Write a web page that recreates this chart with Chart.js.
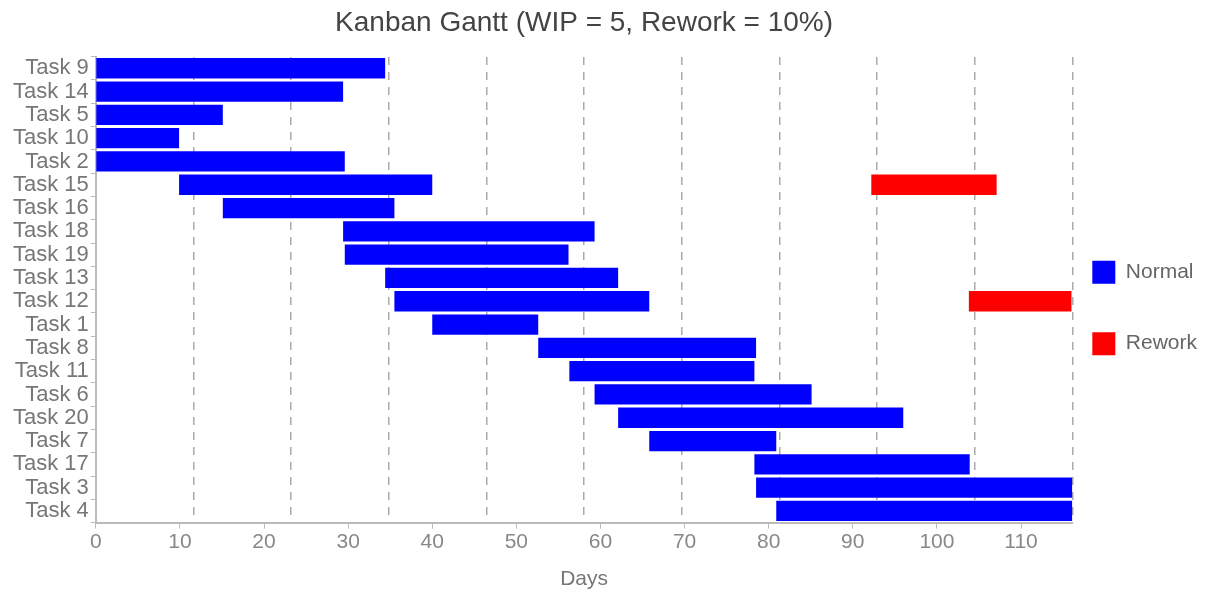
<!DOCTYPE html>
<html>
<head>
<meta charset="utf-8">
<script src="https://cdn.jsdelivr.net/npm/chart.js@4"></script>
<style>
  html, body { margin: 0; padding: 0; background: #fff; }
  #wrap { width: 1211px; height: 592px; }
</style>
</head>
<body>
<div id="wrap"><canvas id="myChart"></canvas></div>
<script>
// tasks top to bottom
var tasks = ['Task 9', 'Task 14', 'Task 5', 'Task 10', 'Task 2', 'Task 15', 'Task 16', 'Task 18', 'Task 19', 'Task 13',
             'Task 12', 'Task 1', 'Task 8', 'Task 11', 'Task 6', 'Task 20', 'Task 7', 'Task 17', 'Task 3', 'Task 4'];
var normalStart = [0, 0, 0, 0, 0, 9.9, 15.1, 29.4, 29.6, 34.4, 35.5, 40.0, 52.6, 56.3, 59.3, 62.1, 65.8, 78.3, 78.5, 80.9];
var normalEnd   = [34.4, 29.4, 15.1, 9.9, 29.6, 40.0, 35.5, 59.3, 56.2, 62.1, 65.8, 52.6, 78.5, 78.3, 85.1, 96.0, 80.9, 103.9, 116.1, 116.1];
var reworkStart = [null, null, null, null, null, 92.2, null, null, null, null, 103.8, null, null, null, null, null, null, null, null, null];
var reworkEnd   = [null, null, null, null, null, 107.1, null, null, null, null, 116.0, null, null, null, null, null, null, null, null, null];
var xTicks = [0, 10, 20, 30, 40, 50, 60, 70, 80, 90, 100, 110];
var xMax = 116.1;

function pairs(s, e) {
  return s.map(function (v, i) { return v === null ? null : [v, e[i]]; });
}

Chart.defaults.font.family = '"Liberation Sans", Arial, sans-serif';
Chart.defaults.color = '#777';

var ctx = document.getElementById('myChart').getContext('2d');
var myChart = new Chart(ctx, {
  type: 'bar',
  data: {
    labels: tasks,
    datasets: [{
      label: 'Normal',
      data: pairs(normalStart, normalEnd),
      backgroundColor: '#0000ff',
      borderWidth: 0
    }, {
      label: 'Rework',
      data: pairs(reworkStart, reworkEnd),
      backgroundColor: '#ff0000',
      borderWidth: 0
    }]
  },
  options: {
    indexAxis: 'y',
    responsive: true,
    maintainAspectRatio: false,
    animation: false,
    grouped: false,
    barPercentage: 0.87,
    categoryPercentage: 1.0,
    layout: { padding: { left: 11, right: 4, top: 4, bottom: 0 } },
    plugins: {
      title: {
        display: true,
        text: 'Kanban Gantt (WIP = 5, Rework = 10%)',
        fullSize: false,
        color: '#444',
        font: { size: 28, weight: 'normal' },
        padding: { top: 2, bottom: 17 }
      },
      legend: {
        position: 'right',
        title: { display: true, text: ' ', font: { size: 12 }, padding: 17 },
        labels: {
          boxWidth: 23,
          boxHeight: 23,
          padding: 20,
          color: '#666',
          font: { size: 21, lineHeight: 2.45 },
          // one-line arrays so the row height follows lineHeight
          generateLabels: function (chart) {
            var items = Chart.defaults.plugins.legend.labels.generateLabels(chart);
            items.forEach(function (it) { it.text = [it.text]; });
            return items;
          }
        }
      },
      tooltip: { enabled: false }
    },
    scales: {
      x: {
        type: 'linear',
        position: 'bottom',
        min: 0,
        max: xMax,
        afterBuildTicks: function (scale) {
          scale.ticks = xTicks.map(function (v) { return { value: v }; });
        },
        ticks: { color: '#888', font: { size: 21 }, padding: 1 },
        grid: { drawOnChartArea: false, tickColor: '#bbb', tickLength: 6 },
        border: { color: '#bbb', width: 2 },
        title: { display: true, text: 'Days', color: '#777', font: { size: 21 }, padding: { top: 11, bottom: 0 } }
      },
      xg: {
        type: 'linear',
        position: 'top',
        min: 0,
        max: xMax,
        afterBuildTicks: function (scale) {
          var t = [];
          for (var i = 1; i <= 10; i++) t.push({ value: xMax * i / 10 });
          scale.ticks = t;
        },
        ticks: { display: false },
        grid: { color: '#aaa', lineWidth: 1.5, drawTicks: false },
        border: { display: false, dash: [8, 7] }
      },
      y: {
        ticks: { color: '#777', font: { size: 22 }, padding: 2, autoSkip: false },
        grid: { drawOnChartArea: false, tickColor: '#bbb', tickLength: 5 },
        border: { color: '#bbb', width: 2 }
      }
    }
  }
});
</script>
</body>
</html>
